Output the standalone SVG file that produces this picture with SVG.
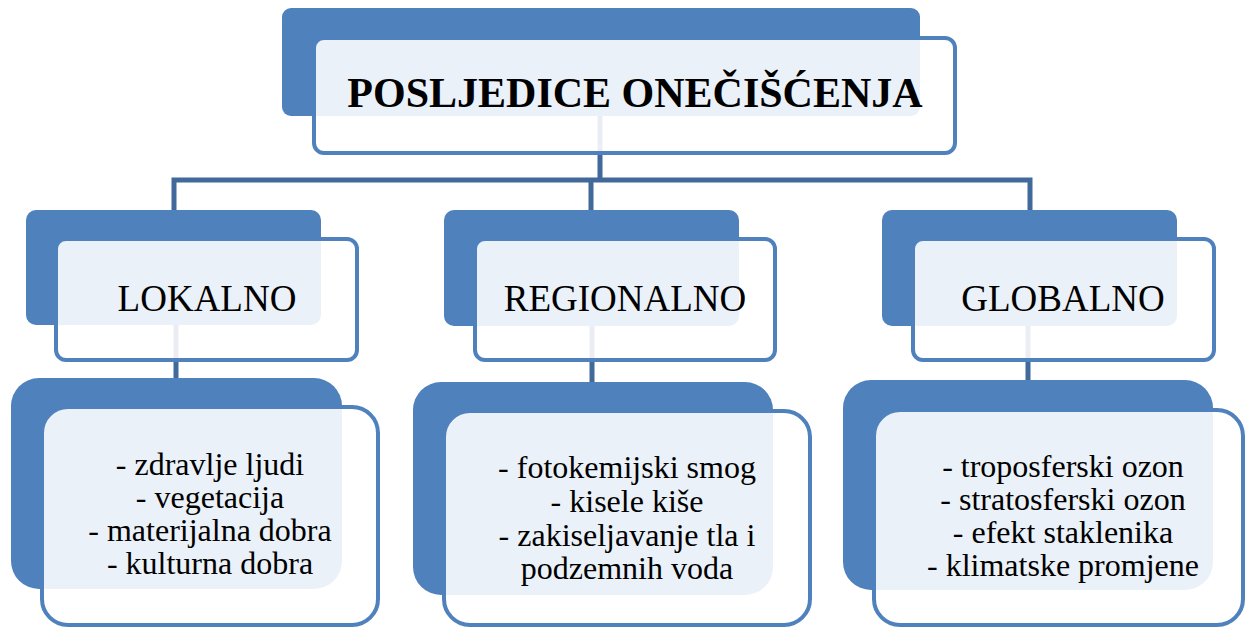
<svg xmlns="http://www.w3.org/2000/svg" width="1247" height="628" viewBox="0 0 1247 628">
  <style>
    .back { fill: #4F81BD; }
    .front { fill: #FFFFFF; fill-opacity: 0.89; stroke: #4F81BD; stroke-width: 4; }
    .conn { fill: none; stroke: #41699A; stroke-width: 5; }
    .title { font-family: "Liberation Serif", "Times New Roman", serif; font-size: 42px; font-weight: bold; fill: #000; text-anchor: middle; }
    .head { font-family: "Liberation Serif", "Times New Roman", serif; font-size: 37px; fill: #000; text-anchor: middle; }
    .item { font-family: "Liberation Serif", "Times New Roman", serif; font-size: 32px; fill: #000; text-anchor: middle; }
  </style>
  <rect width="1247" height="628" fill="#FFFFFF"/>
  <g id="connectors">
    <path class="conn" d="M600,115 V180 M174,210 V180 H1030 V210 M591,180 V210"/>
    <path class="conn" d="M176,325 V378 M592,326 V382 M1028,326 V380"/>
  </g>
  <g id="node-posljedice">
    <rect class="back" x="282" y="8" width="638" height="108" rx="9"/>
    <rect class="front" x="314" y="38" width="641" height="115" rx="10"/>
    <text class="title" x="635" y="107">POSLJEDICE ONEČIŠĆENJA</text>
  </g>
  <g id="node-lokalno">
    <rect class="back" x="26" y="210" width="295" height="115" rx="10"/>
    <rect class="front" x="56" y="239" width="301" height="121" rx="10"/>
    <text class="head" x="207" y="311">LOKALNO</text>
  </g>
  <g id="node-regionalno">
    <rect class="back" x="444" y="210" width="295" height="116" rx="10"/>
    <rect class="front" x="475" y="239" width="300" height="121" rx="10"/>
    <text class="head" x="625" y="311">REGIONALNO</text>
  </g>
  <g id="node-globalno">
    <rect class="back" x="882" y="210" width="295" height="116" rx="10"/>
    <rect class="front" x="913" y="239" width="301" height="121" rx="10"/>
    <text class="head" x="1063" y="311">GLOBALNO</text>
  </g>
  <g id="node-lokalno-items">
    <rect class="back" x="11" y="378" width="331" height="211" rx="28"/>
    <rect class="front" x="42" y="407" width="336" height="218" rx="26"/>
    <text class="item" x="210" y="475">- zdravlje ljudi</text>
    <text class="item" x="210" y="508">- vegetacija</text>
    <text class="item" x="210" y="541">- materijalna dobra</text>
    <text class="item" x="210" y="574">- kulturna dobra</text>
  </g>
  <g id="node-regionalno-items">
    <rect class="back" x="413" y="382" width="360" height="213" rx="28"/>
    <rect class="front" x="444" y="411" width="366" height="214" rx="26"/>
    <text class="item" x="627" y="478">- fotokemijski smog</text>
    <text class="item" x="627" y="512">- kisele kiše</text>
    <text class="item" x="627" y="546">- zakiseljavanje tla i</text>
    <text class="item" x="627" y="579">podzemnih voda</text>
  </g>
  <g id="node-globalno-items">
    <rect class="back" x="843" y="380" width="370" height="210" rx="28"/>
    <rect class="front" x="874" y="410" width="369" height="215" rx="26"/>
    <text class="item" x="1063" y="477">- troposferski ozon</text>
    <text class="item" x="1063" y="510">- stratosferski ozon</text>
    <text class="item" x="1063" y="543">- efekt staklenika</text>
    <text class="item" x="1063" y="576">- klimatske promjene</text>
  </g>
</svg>
